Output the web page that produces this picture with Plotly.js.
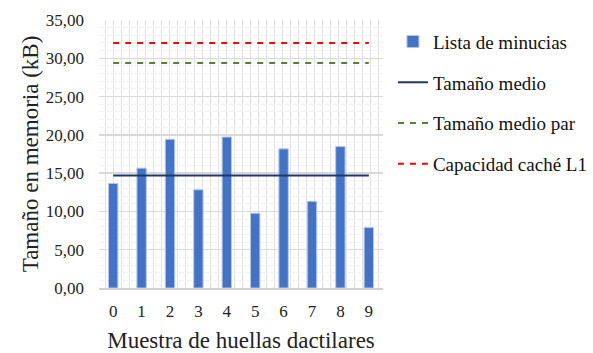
<!DOCTYPE html>
<html>
<head>
<meta charset="utf-8">
<script src="https://cdn.plot.ly/plotly-3.0.1.min.js"></script>
<style>html,body{margin:0;padding:0;background:#fff;}#chart{width:593px;height:353px;}</style>
</head>
<body>
<div id="chart"></div>
<script>
// Muestras de huellas y tamaño de su lista de minucias (kB)
const muestras = [0, 1, 2, 3, 4, 5, 6, 7, 8, 9];
const listaMinucias = [13.66, 15.65, 19.42, 12.83, 19.72, 9.76, 18.17, 11.32, 18.47, 7.89];
const tamanoMedio = [14.69, 14.69, 14.69, 14.69, 14.69, 14.69, 14.69, 14.69, 14.69, 14.69];
const tamanoMedioPar = [29.38, 29.38, 29.38, 29.38, 29.38, 29.38, 29.38, 29.38, 29.38, 29.38];
const capacidadL1 = [32, 32, 32, 32, 32, 32, 32, 32, 32, 32];
const etiquetasX = ['0', '1', '2', '3', '4', '5', '6', '7', '8', '9'];

const serif = 'Liberation Serif';

const traces = [
  {
    type: 'bar', x: muestras, y: listaMinucias, name: 'Lista de minucias',
    width: 0.33, legendgroup: 'a',
    marker: {color: '#4472C4', line: {color: '#b4c7e7', width: 1}}
  },
  {
    type: 'scatter', mode: 'lines', x: muestras, y: tamanoMedio, name: 'Tamaño medio',
    legendgroup: 'b', line: {color: '#1F3864', width: 2}
  },
  {
    type: 'scatter', mode: 'lines', x: muestras, y: tamanoMedioPar, name: 'Tamaño medio par',
    legendgroup: 'c', line: {color: '#548235', width: 2, dash: '6px,6px'}
  },
  {
    type: 'scatter', mode: 'lines', x: muestras, y: capacidadL1, name: 'Capacidad caché L1',
    legendgroup: 'd', line: {color: '#FF0000', width: 2, dash: '6px,6px'}
  }
];

const layout = {
  width: 593, height: 353,
  margin: {l: 99, r: 210, t: 20, b: 65, autoexpand: false},
  paper_bgcolor: '#ffffff', plot_bgcolor: '#ffffff',
  separators: ',.',
  font: {family: serif, color: '#222222', size: 17},
  showlegend: true,
  legend: {
    x: 1.035, xanchor: 'left', y: 0.99, yanchor: 'top',
    traceorder: 'grouped', tracegroupgap: 13,
    font: {family: serif, size: 19, color: '#111111'},
    itemwidth: 30, bgcolor: 'rgba(0,0,0,0)'
  },
  xaxis: {
    range: [-0.5, 9.5], tickmode: 'array', tickvals: muestras, ticktext: etiquetasX,
    showgrid: false, zeroline: false,
    ticks: 'outside', ticklen: 7, tickcolor: 'rgba(0,0,0,0)',
    showline: true, linecolor: '#d0d0d0', linewidth: 1.5,
    tickfont: {family: serif, size: 17, color: '#222'},
    minor: {showgrid: true, tick0: -0.264, dtick: 0.2827, gridcolor: '#e0e0e0', gridwidth: 1, ticks: ''},
    title: {text: 'Muestra de huellas dactilares', font: {family: serif, size: 23, color: '#222'}, standoff: 15}
  },
  yaxis: {
    range: [0, 35], dtick: 5, tickformat: '.2f',
    showgrid: true, gridcolor: '#d9d9d9', gridwidth: 1.5,
    zeroline: false, showline: false, ticks: '',
    ticklabelstandoff: 14,
    tickfont: {family: serif, size: 17, color: '#222'},
    minor: {showgrid: true, dtick: 1, gridcolor: '#f3f3f3', gridwidth: 1, ticks: ''},
    title: {text: 'Tamaño en memoria (kB)', font: {family: serif, size: 23, color: '#222'}, standoff: 0}
  },
  bargap: 0.67
};

Plotly.newPlot('chart', traces, layout, {displayModeBar: false, staticPlot: true});
</script>
</body>
</html>
